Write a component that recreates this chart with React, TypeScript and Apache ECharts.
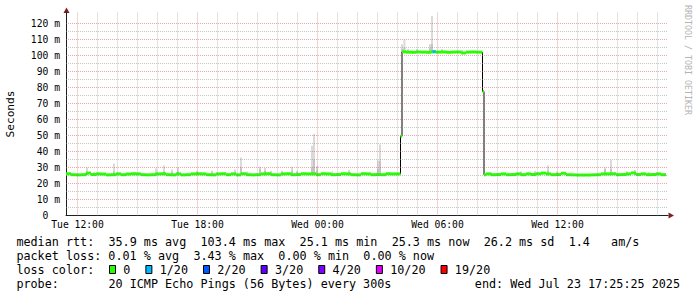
import React, { useEffect, useRef } from "react";
import * as echarts from "echarts";

// ---------- data ----------
const START_HOUR = 11 + 25 / 60 + 25 / 3600; // Tue 11:25:25
const SPAN_HOURS = 30.1;
const SAMPLE_HOURS = 0.25;
const SMOKE_WIDTH = 0.1;

const xTickHours = [12, 18, 24, 30, 36];
const xTickLabels = ["Tue 12:00", "Tue 18:00", "Wed 00:00", "Wed 06:00", "Wed 12:00"];
const yTickValues = [0, 10, 20, 30, 40, 50, 60, 70, 80, 90, 100, 110, 120];
const yTickLabels = ["0", "10 m", "20 m", "30 m", "40 m", "50 m", "60 m", "70 m", "80 m", "90 m", "100 m", "110 m", "120 m"];

// median rtt (ms), 15-minute samples, hours after start
const medianBefore = [
  26.1, 25.5, 25.4, 25.5, 26.5, 25.6, 26.0, 25.9, 25.4, 25.5,
  26.0, 25.5, 25.9, 26.1, 26.0, 25.5, 25.4, 25.5, 26.0, 26.1,
  25.5, 25.4, 26.0, 25.4, 25.5, 26.0, 26.1, 26.0, 25.5, 25.4,
  26.0, 26.1, 25.5, 26.0, 25.4, 26.1, 25.5, 25.4, 25.5, 26.0,
  26.1, 25.5, 25.4, 26.0, 26.1, 25.5, 25.6, 26.1, 26.0, 26.1,
  25.5, 26.1, 26.0, 25.5, 25.6, 26.1, 26.0, 25.5, 25.4, 26.1,
  26.0, 25.5, 25.6, 25.5, 26.1, 26.0,
];
const medianRise: [number, number][] = [[16.725, 26.0], [16.8, 49.5]];
const medianPlateau = [
  102.3, 102.1, 102.0, 102.2, 102.1, 102.0, 102.3, 102.1,
  102.2, 102.0, 102.1, 102.2, 101.6, 102.1, 102.2, 102.1,
];
const medianFall: [number, number][] = [[20.825, 102.0], [20.9, 77.5]];
const medianAfter = [
  25.4, 26.0, 25.5, 25.6, 26.0, 25.5, 25.6, 26.0, 25.5, 26.0,
  25.6, 26.1, 26.5, 26.0, 25.5, 25.6, 26.4, 25.5, 25.4, 25.3,
  25.3, 25.3, 25.4, 25.5, 26.0, 26.0, 26.1, 25.5, 25.6, 26.0,
  26.6, 25.6, 26.0, 25.5, 25.6, 26.0, 25.5,
];
// [start h, end h, ms, loss index]
const lossMarks: [number, number, number, number][] = [[18.33, 18.48, 102.4, 1]];

// smoke: [hour, low ms, inner ms, top ms]
const smoke: [number, number, number, number][] = [
  [1.1, 25.2, 27.5, 30.0], [1.45, 25.2, 26.5, 27.2], [2.45, 25.2, 27.5, 32.5],
  [3.45, 25.2, 26.5, 27.0], [4.55, 25.2, 27.0, 29.3], [4.95, 25.2, 27.5, 31.2],
  [5.35, 25.2, 27.0, 28.7], [5.65, 25.2, 27.5, 30.0], [6.6, 25.2, 27.0, 28.0],
  [7.35, 25.2, 27.0, 28.0], [8.5, 25.2, 27.0, 28.7], [8.8, 25.2, 30.0, 36.3],
  [9.1, 25.2, 26.8, 27.5], [9.75, 25.2, 29.0, 30.5], [10.0, 25.2, 28.0, 29.7],
  [10.3, 25.2, 27.0, 28.0], [10.85, 25.2, 27.0, 28.0], [11.35, 25.2, 28.0, 30.5],
  [11.6, 25.2, 27.0, 28.0], [12.35, 25.2, 30.0, 43.6], [12.45, 25.2, 35.0, 51.0],
  [12.6, 25.2, 28.0, 31.0], [13.35, 25.2, 26.5, 27.5], [14.2, 25.2, 27.0, 28.5],
  [15.65, 25.2, 29.0, 34.3], [15.75, 25.2, 34.0, 44.3],
  [16.85, 101.5, 104.0, 107.0], [16.97, 101.5, 105.0, 110.0], [17.15, 101.5, 103.0, 104.0],
  [17.6, 101.5, 103.0, 104.0], [18.25, 101.5, 104.5, 107.2], [18.35, 101.5, 107.0, 124.7],
  [18.85, 101.5, 103.0, 104.0], [19.85, 101.5, 103.0, 103.5],
  [21.3, 25.2, 26.5, 27.0], [22.8, 25.2, 26.8, 27.5], [23.5, 25.2, 27.0, 28.0],
  [24.15, 25.2, 28.0, 31.2], [24.6, 25.2, 26.8, 27.5], [27.0, 25.2, 29.0, 30.0],
  [27.3, 25.2, 29.0, 34.9], [28.1, 25.2, 26.8, 27.5], [28.5, 25.2, 27.0, 28.5],
  [29.2, 25.2, 26.5, 27.0],
];

const lossLabels = ["0", "1/20", "2/20", "3/20", "4/20", "10/20", "19/20"];
const lossColors = ["#26ff00", "#00b8ff", "#0059ff", "#5e00ff", "#7e00ff", "#dd00ff", "#ff0000"];

const legendMedian = "median rtt:  35.9 ms avg  103.4 ms max  25.1 ms min  25.3 ms now  26.2 ms sd  1.4   am/s";
const legendLoss = "packet loss: 0.01 % avg  3.43 % max  0.00 % min  0.00 % now";
const legendLossTitle = "loss color:";
const legendProbe = "probe:       20 ICMP Echo Pings (56 Bytes) every 300s";
const legendEnd = "end: Wed Jul 23 17:25:25 2025";
const watermark = "RRDTOOL / TOBI OETIKER";
const yAxisTitle = "Seconds";

// ---------- styles ----------
const FONT = "'DejaVu Sans Mono', monospace";
const GRID_MINOR = "rgba(143,143,143,0.5)";
const GRID_MAJOR = "rgba(222,79,79,0.5)";
const AXIS = "rgb(31,31,31)";
const ARROW = "rgb(128,31,31)";
const LEG_X = 16.4;
const CHAR_W = 7.08;
const LEG_FONT = `11.75px ${FONT}`;

function chunks(line: string) {
  const out: { text: string; col: number }[] = [];
  const re = /\S+(?: \S+)*/g;
  let m: RegExpExecArray | null;
  while ((m = re.exec(line))) out.push({ text: m[0], col: m.index });
  return out;
}

function buildOption() {
  const medianPoints: [number, number][] = [
    ...medianBefore.map((v, i) => [SAMPLE_HOURS * (i + 1), v] as [number, number]),
    ...medianRise,
    ...medianPlateau.map((v, i) => [17 + SAMPLE_HOURS * i, v] as [number, number]),
    ...medianFall,
    ...medianAfter.map((v, i) => [21 + SAMPLE_HOURS * i, v] as [number, number]),
  ];
  const segments = medianPoints.map((p, i) => [i === 0 ? 0 : medianPoints[i - 1][0], p[0], p[1], 0]);
  lossMarks.forEach((m) => segments.push([m[0], m[1], m[2], m[3]]));
  const blackLine = [[0, medianPoints[0][1]], ...medianPoints];

  const gridLines: any[] = [];
  for (let h = 12; h <= 41; h++) {
    if (xTickHours.indexOf(h) >= 0) continue;
    gridLines.push({ xAxis: h - START_HOUR, lineStyle: { color: GRID_MINOR, width: 1, type: [1, 1] } });
  }
  for (let v = 5; v <= 115; v += 10) {
    gridLines.push({ yAxis: v, lineStyle: { color: GRID_MINOR, width: 1, type: [1, 1] } });
  }
  xTickHours.forEach((h) =>
    gridLines.push({ xAxis: h - START_HOUR, lineStyle: { color: GRID_MAJOR, width: 1, type: [1, 1] } })
  );
  yTickValues.slice(1).forEach((v) =>
    gridLines.push({ yAxis: v, lineStyle: { color: GRID_MAJOR, width: 1, type: [1, 1] } })
  );

  const graphics: any[] = [];
  const rows = [241.5, 255.5, 269.5, 283.5];
  [legendMedian, legendLoss, legendLossTitle, legendProbe].forEach((line, r) => {
    chunks(line).forEach((c) =>
      graphics.push({
        type: "text",
        x: LEG_X + c.col * CHAR_W,
        y: rows[r],
        style: { text: c.text, fill: "#000", font: LEG_FONT, align: "left", verticalAlign: "middle" },
      })
    );
  });
  graphics.push({
    type: "text",
    x: 680,
    y: rows[3],
    style: { text: legendEnd, fill: "#000", font: LEG_FONT, align: "right", verticalAlign: "middle" },
  });
  let lx = 109;
  lossLabels.forEach((lab, i) => {
    graphics.push({
      type: "rect",
      shape: { x: lx + 0.5, y: 265.5, width: 6, height: 8 },
      style: { fill: lossColors[i], stroke: "#000", lineWidth: 1 },
    });
    graphics.push({
      type: "text",
      x: lx + 14.3,
      y: rows[2],
      style: { text: lab, fill: "#000", font: LEG_FONT, align: "left", verticalAlign: "middle" },
    });
    lx = lx + 14.3 + lab.length * CHAR_W + 15;
  });
  // axis arrows
  graphics.push({
    type: "polygon",
    shape: { points: [[63.5, 13], [69.5, 13], [66.5, 7.5]] },
    style: { fill: ARROW },
  });
  graphics.push({
    type: "polygon",
    shape: { points: [[668.5, 212.5], [668.5, 218.5], [674, 215.5]] },
    style: { fill: ARROW },
  });
  graphics.push({
    type: "text",
    x: 10.8,
    y: 114,
    rotation: Math.PI / 2,
    style: { text: yAxisTitle, fill: "#000", font: `11.2px ${FONT}`, align: "center", verticalAlign: "middle" },
  });
  graphics.push({
    type: "text",
    x: 688,
    y: 60,
    rotation: -Math.PI / 2,
    style: { text: watermark, fill: "#b4b4b4", font: `8.3px ${FONT}`, align: "center", verticalAlign: "middle" },
  });

  return {
    animation: false,
    backgroundColor: "#ffffff",
    grid: { left: 66, right: 29, top: 12.3, bottom: 81.5, containLabel: false },
    xAxis: {
      type: "value",
      min: 0,
      max: SPAN_HOURS,
      axisLine: { show: true, lineStyle: { color: AXIS, width: 1 } },
      axisTick: { show: false },
      splitLine: { show: false },
      axisLabel: {
        customValues: xTickHours.map((h) => h - START_HOUR),
        formatter: (v: number) => {
          const idx = xTickHours.indexOf(Math.round(v + START_HOUR));
          return idx >= 0 ? xTickLabels[idx] : "";
        },
        color: "#000",
        fontFamily: FONT,
        fontSize: 9.7,
        margin: 4,
        hideOverlap: false,
        showMinLabel: true,
        showMaxLabel: true,
      },
    },
    yAxis: {
      type: "value",
      min: 0,
      max: 127,
      interval: 10,
      axisLine: { show: true, lineStyle: { color: AXIS, width: 1 } },
      axisTick: { show: false },
      splitLine: { show: false },
      axisLabel: {
        formatter: (v: number) => {
          const idx = yTickValues.indexOf(v);
          if (idx < 0) return "";
          const lab = yTickLabels[idx];
          return lab.indexOf(" ") < 0 ? lab + "\u00a0\u00a0" : lab;
        },
        color: "#000",
        fontFamily: FONT,
        fontSize: 9.7,
        margin: 6,
      },
    },
    series: [
      {
        type: "line",
        data: [],
        silent: true,
        z: 1,
        markLine: {
          silent: true,
          symbol: ["none", "none"],
          label: { show: false },
          animation: false,
          data: gridLines,
        },
      },
      {
        type: "custom",
        z: 2,
        silent: true,
        data: smoke,
        encode: { x: 0, y: 3 },
        renderItem: (params: any, api: any) => {
          const t = api.value(0);
          const low = api.value(1);
          const inner = api.value(2);
          const top = api.value(3);
          const x0 = api.coord([t - SMOKE_WIDTH, low])[0];
          const x1 = api.coord([t, low])[0];
          const yLow = api.coord([t, low])[1];
          const yInner = api.coord([t, inner])[1];
          const yTop = api.coord([t, top])[1];
          return {
            type: "group",
            children: [
              { type: "rect", shape: { x: x0, y: yTop, width: x1 - x0, height: yLow - yTop }, style: { fill: "#dadada" } },
              { type: "rect", shape: { x: x0, y: yInner, width: x1 - x0, height: yLow - yInner }, style: { fill: "#c4c4c4" } },
            ],
          };
        },
      },
      {
        type: "line",
        z: 3,
        silent: true,
        step: "start",
        showSymbol: false,
        symbol: "none",
        data: blackLine,
        lineStyle: { color: "#000", width: 1 },
      },
      {
        type: "custom",
        z: 4,
        silent: true,
        data: segments,
        encode: { x: [0, 1], y: 2 },
        renderItem: (params: any, api: any) => {
          const a = api.coord([api.value(0), api.value(2)]);
          const b = api.coord([api.value(1), api.value(2)]);
          return {
            type: "line",
            shape: { x1: a[0], y1: a[1], x2: b[0], y2: b[1] },
            style: { stroke: lossColors[api.value(3)], lineWidth: 3, lineCap: "butt" },
          };
        },
      },
    ],
    graphic: graphics,
  };
}

export default function App() {
  const ref = useRef<HTMLDivElement>(null);
  useEffect(() => {
    document.body.style.margin = "0";
    if (!ref.current) return;
    const chart = echarts.init(ref.current, undefined, { renderer: "svg" });
    chart.setOption(buildOption() as any);
    return () => chart.dispose();
  }, []);
  return <div ref={ref} style={{ width: 697, height: 297 }} />;
}
